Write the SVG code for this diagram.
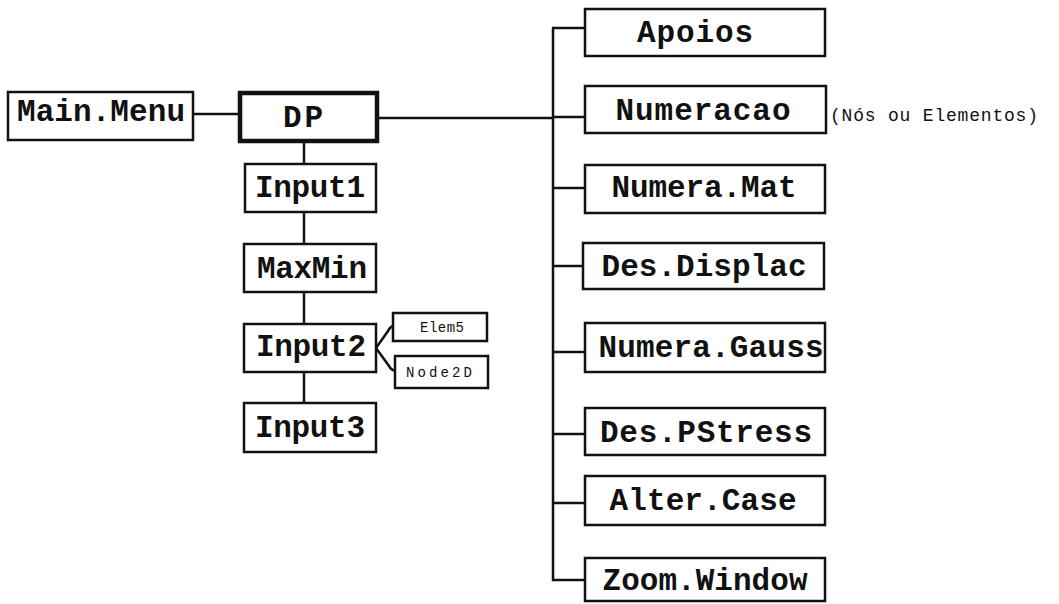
<svg xmlns="http://www.w3.org/2000/svg" width="1059" height="604" viewBox="0 0 1059 604">
<style>
  .box { fill: #fff; stroke: #111; stroke-width: 2.5; }
  .thick { stroke-width: 4.5; }
  .lbl { font-family: "Liberation Mono", "DejaVu Sans Mono", monospace; font-size: 31px; font-weight: bold; fill: #111; text-anchor: middle; }
  .sm { font-family: "Liberation Mono", "DejaVu Sans Mono", monospace; font-size: 14px; fill: #111; text-anchor: middle; }
  .note { font-family: "Liberation Mono", "DejaVu Sans Mono", monospace; font-size: 18px; fill: #111; }
  .wire { fill: none; stroke: #111; stroke-width: 2.5; }
</style>
<rect width="1059" height="604" fill="#fff"/>
<g id="connectors">
  <line class="wire" x1="193" y1="114" x2="240" y2="114"/>
  <line class="wire" x1="377" y1="118" x2="553" y2="118" stroke-width="3.5"/>
  <line class="wire" x1="553" y1="28" x2="553" y2="581"/>
  <line class="wire" x1="552" y1="28" x2="585" y2="28"/>
  <line class="wire" x1="553" y1="117" x2="585" y2="117"/>
  <line class="wire" x1="553" y1="188" x2="585" y2="188"/>
  <line class="wire" x1="553" y1="266" x2="583" y2="266"/>
  <line class="wire" x1="553" y1="352" x2="585" y2="352"/>
  <line class="wire" x1="553" y1="434" x2="585" y2="434"/>
  <line class="wire" x1="553" y1="503" x2="585" y2="503"/>
  <line class="wire" x1="552" y1="580" x2="585" y2="580"/>
  <line class="wire" x1="304" y1="141" x2="304" y2="164"/>
  <line class="wire" x1="304" y1="212" x2="304" y2="244"/>
  <line class="wire" x1="304" y1="292" x2="304" y2="324"/>
  <line class="wire" x1="304" y1="372" x2="304" y2="403"/>
  <path class="wire" d="M376,348 L388,331 Q390,327 393,326"/>
  <path class="wire" d="M376,348 L389,366 Q391,370 395,371"/>
</g>
<g id="main-menu">
  <rect class="box" x="8" y="92" width="185" height="48"/>
  <text class="lbl" x="101" y="121" textLength="168">Main.Menu</text>
</g>
<g id="dp">
  <rect class="box thick" x="240" y="93" width="137" height="48"/>
  <text class="lbl" x="303" y="127" font-size="40" textLength="40">DP</text>
</g>
<g id="input1">
  <rect class="box" x="245" y="164" width="131" height="48"/>
  <text class="lbl" x="310" y="197" textLength="110">Input1</text>
</g>
<g id="maxmin">
  <rect class="box" x="244" y="244" width="132" height="48"/>
  <text class="lbl" x="312" y="278" textLength="110">MaxMin</text>
</g>
<g id="input2">
  <rect class="box" x="244" y="324" width="132" height="48"/>
  <text class="lbl" x="311" y="356" textLength="110">Input2</text>
</g>
<g id="input3">
  <rect class="box" x="244" y="403" width="132" height="49"/>
  <text class="lbl" x="310" y="437" textLength="110">Input3</text>
</g>
<g id="elem5">
  <rect class="box" x="393" y="313" width="94" height="28"/>
  <text class="sm" x="442" y="332" textLength="44">Elem5</text>
</g>
<g id="node2d">
  <rect class="box" x="395" y="356" width="93" height="32"/>
  <text class="sm" x="439" y="377" textLength="66">Node2D</text>
</g>
<g id="apoios">
  <rect class="box" x="585" y="9" width="240" height="47"/>
  <text class="lbl" x="695" y="42" textLength="116">Apoios</text>
</g>
<g id="numeracao">
  <rect class="box" x="585" y="86" width="241" height="47"/>
  <text class="lbl" x="703" y="120" textLength="175">Numeracao</text>
</g>
<text class="note" x="830" y="121" textLength="208">(Nós ou Elementos)</text>
<g id="numera-mat">
  <rect class="box" x="585" y="165" width="240" height="48"/>
  <text class="lbl" x="704" y="197" textLength="185">Numera.Mat</text>
</g>
<g id="des-displac">
  <rect class="box" x="583" y="243" width="241" height="46"/>
  <text class="lbl" x="704" y="276" textLength="205">Des.Displac</text>
</g>
<g id="numera-gauss">
  <rect class="box" x="585" y="323" width="240" height="49"/>
  <text class="lbl" x="711" y="357" textLength="225">Numera.Gauss</text>
</g>
<g id="des-pstress">
  <rect class="box" x="585" y="408" width="240" height="47"/>
  <text class="lbl" x="706" y="442" textLength="212">Des.PStress</text>
</g>
<g id="alter-case">
  <rect class="box" x="585" y="476" width="240" height="49"/>
  <text class="lbl" x="703" y="510" textLength="187">Alter.Case</text>
</g>
<g id="zoom-window">
  <rect class="box" x="585" y="558" width="240" height="43"/>
  <text class="lbl" x="705" y="590" textLength="205">Zoom.Window</text>
</g>
</svg>
